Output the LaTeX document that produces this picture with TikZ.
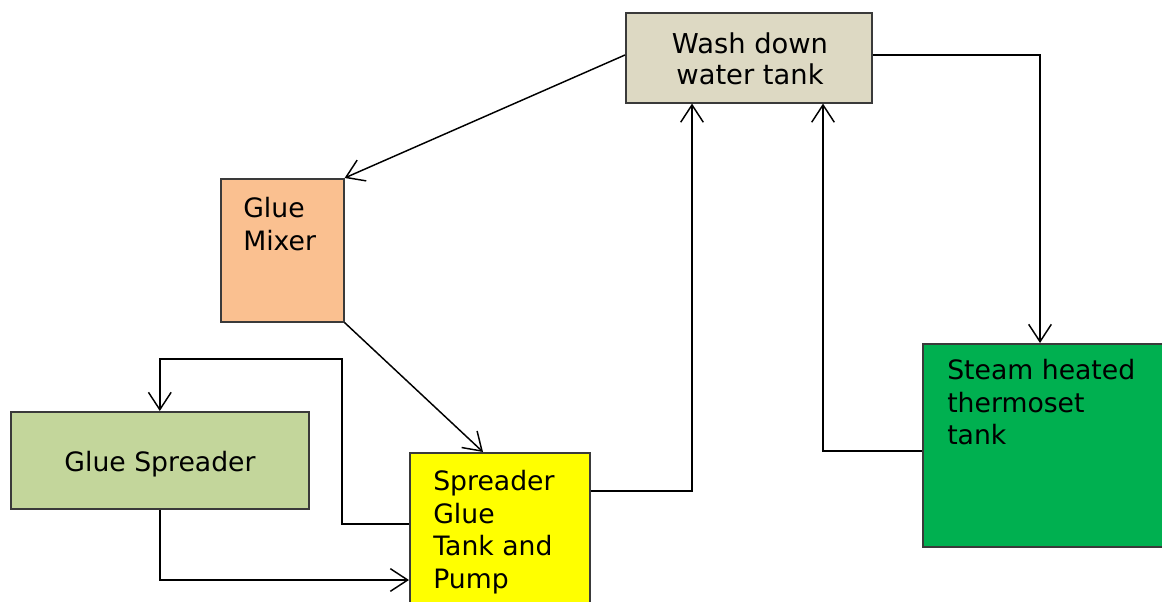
\documentclass[tikz,border=0pt]{standalone}
\usepackage{fontspec}
\setmainfont{DejaVu Sans}
\usetikzlibrary{arrows.meta,calc}
\definecolor{washfill}{HTML}{DDD9C3}
\definecolor{mixfill}{HTML}{FAC090}
\definecolor{sprfill}{HTML}{C3D69B}
\definecolor{pumpfill}{HTML}{FFFF00}
\definecolor{steamfill}{HTML}{00B050}
\definecolor{edge}{HTML}{3A3A3A}
\begin{document}
\begin{tikzpicture}[x=0.75pt,y=-0.75pt,
  box/.style={draw=edge,line width=1.2pt,anchor=north west,inner sep=0pt},
  label/.style={inner sep=0pt,font=\fontsize{20pt}{24.5pt}\selectfont},
  flow/.style={draw=black,line width=1.1pt,line join=miter,
    -{Straight Barb[length=13pt,width=17pt,line width=1.1pt]}}]
  \clip (0,0) rectangle (1162,602);
  \fill[white] (0,0) rectangle (1162,602);

  % process boxes
  \node[box,fill=washfill,minimum width=184.5pt,minimum height=67.5pt] (wash) at (625,12) {};
  \node[box,fill=mixfill,minimum width=92.25pt,minimum height=107.25pt] (mixer) at (220,178) {};
  \node[box,fill=sprfill,minimum width=223.5pt,minimum height=72.75pt] (spreader) at (10,411) {};
  \node[box,fill=pumpfill,minimum width=135pt,minimum height=127.5pt] (pump) at (409,452) {};
  \node[box,fill=steamfill,minimum width=220pt,minimum height=152.25pt] (steam) at (922,343) {};

  % box captions
  \node[label,anchor=north,align=center,font=\fontsize{20.5pt}{23.25pt}\selectfont] (washtxt) at (750,32) {Wash down\\water tank};
  \node[label,anchor=north west,align=left] (mixtxt) at (243,197) {Glue\\Mixer};
  \node[label,anchor=north] (sprtxt) at (160,451) {Glue Spreader};
  \node[label,anchor=north west,align=left] (pumptxt) at (433,470) {Spreader\\Glue\\Tank and\\Pump};
  \node[label,anchor=north west,align=left] (steamtxt) at (947,359) {Steam heated\\thermoset\\tank};

  % connectors
  \coordinate (bend) at (342,359);
  \draw[flow] ($(wash.north west)+(0,43)$) -- (mixer.north east);
  \draw[flow] (mixer.south east) -- ($(pump.north west)+(74,0)$);
  \draw[flow] ($(pump.north west)+(0,72)$) -| (bend) -| (spreader.north);
  \draw[flow] (spreader.south) |- ($(pump.north west)+(0,128)$);
  \draw[flow] ($(pump.north east)+(0,39)$) -| ($(wash.south west)+(67,0)$);
  \draw[flow] ($(steam.north west)+(0,108)$) -| ($(wash.south west)+(198,0)$);
  \draw[flow] ($(wash.north east)+(0,43)$) -| ($(steam.north west)+(118,0)$);
\end{tikzpicture}
\end{document}
